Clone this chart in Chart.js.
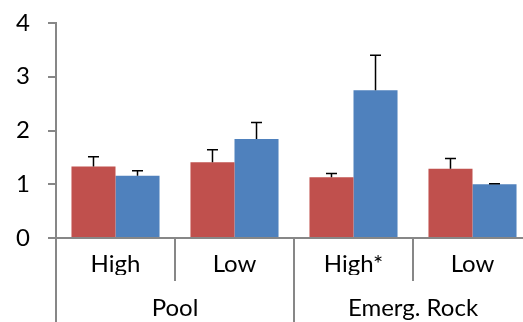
<!DOCTYPE html>
<html>
<head>
<meta charset="utf-8">
<script src="https://cdn.jsdelivr.net/npm/chart.js@4"></script>
<style>
  html, body { margin: 0; padding: 0; background: #fff; overflow: hidden; width: 523px; height: 322px; }
  canvas { display: block; }
</style>
</head>
<body>
<canvas id="chart" width="532" height="322"></canvas>
<script>
// data
const groups = ['Pool', 'Emerg. Rock'];
const sites = ['High', 'Low', 'High*', 'Low'];
const redValues = [1.33, 1.41, 1.13, 1.29];
const redErrors = [0.18, 0.23, 0.07, 0.19];
const blueValues = [1.16, 1.84, 2.75, 1.00];
const blueErrors = [0.09, 0.31, 0.65, 0.01];
const yTicks = [0, 1, 2, 3, 4];

const axisGray = '#878787';
const font = { family: 'Lato', size: 24 };

// upper error bars, drawn from the y scale
const errorBars = {
    id: 'errorBars',
    afterDatasetsDraw(chart) {
        const ctx = chart.ctx;
        const y = chart.scales.y;
        ctx.save();
        ctx.strokeStyle = '#000';
        ctx.lineWidth = 1.5;
        chart.data.datasets.forEach((ds, i) => {
            const meta = chart.getDatasetMeta(i);
            meta.data.forEach((bar, j) => {
                const top = y.getPixelForValue(ds.data[j] + ds.errors[j]);
                ctx.beginPath();
                ctx.moveTo(bar.x, bar.y);
                ctx.lineTo(bar.x, top);
                ctx.moveTo(bar.x - 5.5, top);
                ctx.lineTo(bar.x + 5.5, top);
                ctx.stroke();
            });
        });
        ctx.restore();
    }
};

new Chart(document.getElementById('chart'), {
    type: 'bar',
    data: {
        labels: sites,
        datasets: [
            { label: 'Series 1', data: redValues, errors: redErrors, backgroundColor: '#C0504D' },
            { label: 'Series 2', data: blueValues, errors: blueErrors, backgroundColor: '#4F81BD' }
        ]
    },
    options: {
        responsive: false,
        animation: false,
        layout: { padding: 0 },
        datasets: { bar: { barPercentage: 1, categoryPercentage: 0.74 } },
        plugins: { legend: { display: false }, tooltip: { enabled: false } },
        scales: {
            x: {
                offset: true,
                grid: { offset: true, drawOnChartArea: false, tickLength: 43, color: axisGray, lineWidth: 2 },
                border: { color: axisGray, width: 2 },
                ticks: { font: font, color: '#000', padding: -31, maxRotation: 0, autoSkip: false },
                afterFit: s => { s.height = 37; }
            },
            x2: {
                type: 'category',
                labels: groups,
                position: 'bottom',
                offset: true,
                grid: { offset: true, drawOnChartArea: false, tickLength: 47, color: axisGray, lineWidth: 2 },
                border: { display: false },
                ticks: { font: font, color: '#000', padding: -28, maxRotation: 0, autoSkip: false },
                afterFit: s => { s.height = 47; }
            },
            y: {
                min: 0,
                max: 4,
                afterBuildTicks: s => { s.ticks = yTicks.map(v => ({ value: v })); },
                grid: { drawOnChartArea: false, tickLength: 8, color: axisGray, lineWidth: 2 },
                border: { color: axisGray, width: 2 },
                ticks: { font: font, color: '#000', padding: 18 },
                afterFit: s => { s.width = 56; s.paddingTop = 23; s.paddingBottom = 0; }
            }
        }
    },
    plugins: [errorBars]
});
</script>
</body>
</html>
